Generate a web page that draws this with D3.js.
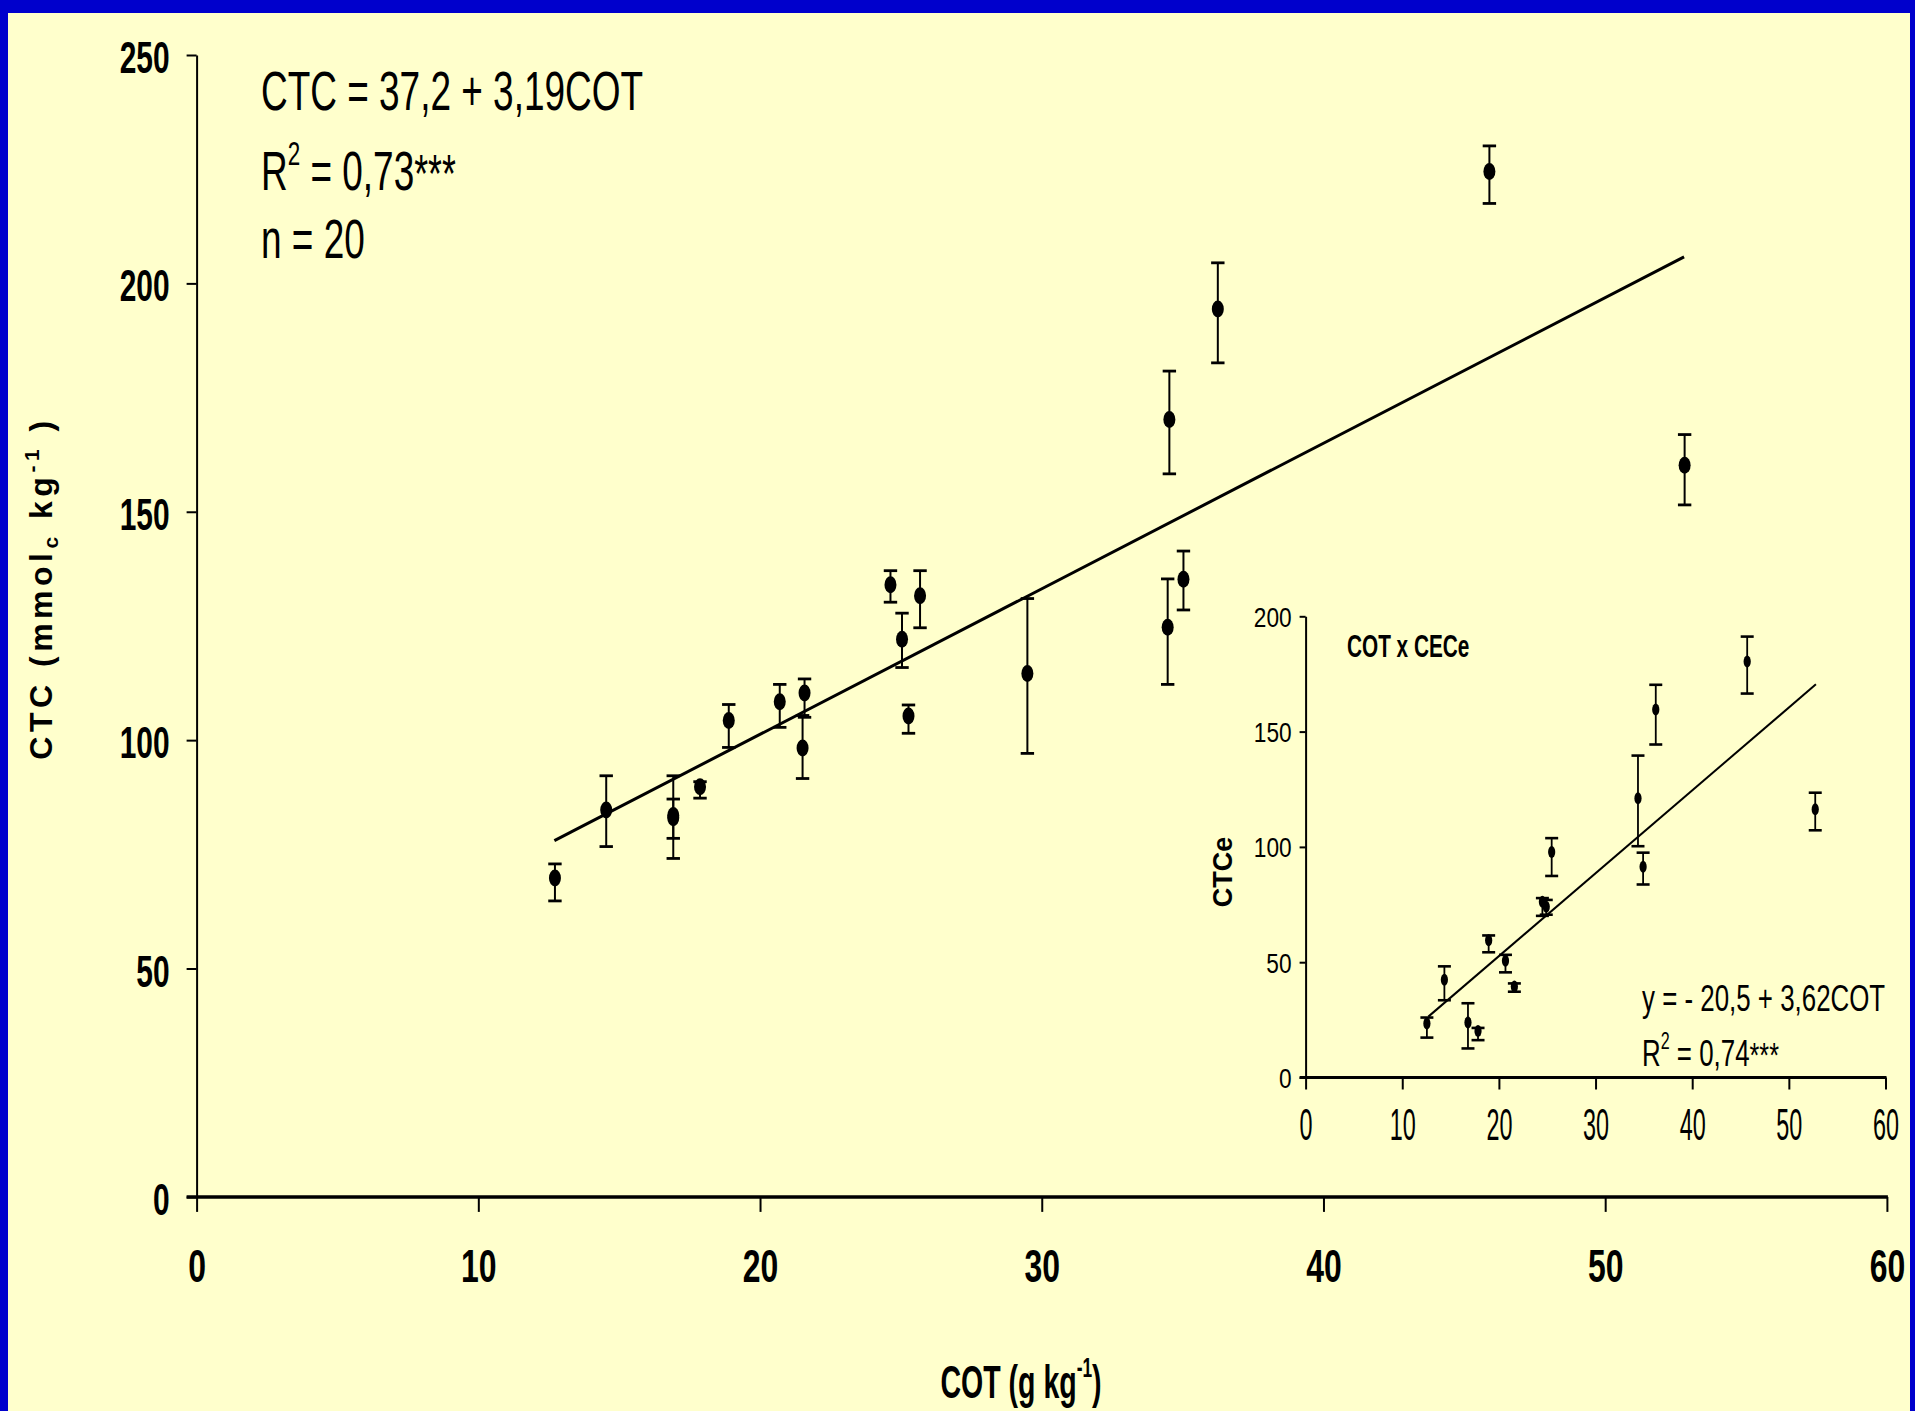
<!DOCTYPE html>
<html>
<head>
<meta charset="utf-8">
<script src="https://cdn.jsdelivr.net/npm/d3@7"></script>
<style>
body { margin: 0; background: #0000CC; }
svg { display: block; }
text { white-space: pre; }
</style>
</head>
<body>
<script>
const svgWidth = 1915
const svgHeight = 1411

// main chart: COT (g kg-1) x CTC (mmolc kg-1), mean with error bar
const cot = [12.72, 14.54, 16.92, 16.92, 17.87, 18.89, 20.70, 21.58, 21.51, 24.63, 25.04, 25.27, 25.68, 29.49, 34.47, 34.53, 35.03, 36.25, 45.89, 52.82]
const ctc = [69.8, 84.7, 83.5, 83.0, 89.8, 104.3, 108.4, 110.3, 98.3, 134.0, 122.1, 105.3, 131.6, 114.6, 124.7, 170.2, 135.2, 194.4, 224.5, 160.2]
const ctcLow = [64.8, 76.7, 74.1, 78.5, 87.3, 98.4, 102.8, 105.0, 91.6, 130.2, 115.9, 101.5, 124.6, 97.1, 112.2, 158.3, 128.5, 182.6, 217.5, 151.5]
const ctcHigh = [72.9, 92.2, 92.2, 87.1, 90.9, 107.8, 112.2, 113.4, 105.4, 137.1, 127.8, 107.7, 137.1, 131.0, 135.3, 180.8, 141.4, 204.5, 230.1, 166.9]
const ctcFit = [[12.7, 78.0], [52.8, 205.8]]

const xTicks = [0, 10, 20, 30, 40, 50, 60]
const yTicks = [0, 50, 100, 150, 200, 250]

// inset: COT x CECe
const cotIn = [12.55, 14.36, 16.80, 17.84, 18.94, 20.68, 21.6, 24.5, 24.9, 25.46, 34.39, 34.92, 36.23, 45.69, 52.73]
const ctce = [23.4, 42.4, 23.8, 20.2, 59.5, 50.6, 39.5, 76.2, 74.0, 97.8, 121.1, 91.4, 159.6, 180.4, 116.3]
const ctceLow = [17.3, 33.5, 12.6, 16.2, 54.3, 45.6, 37.2, 70.1, 70.6, 87.4, 100.3, 83.7, 144.4, 166.5, 107.2]
const ctceHigh = [26.0, 48.2, 32.2, 21.5, 61.6, 53.2, 40.8, 77.8, 77.0, 103.8, 139.6, 97.5, 170.3, 191.2, 123.5]
const ctceFit = [[12.7, 26.4], [52.8, 170.5]]

const yTicksIn = [0, 50, 100, 150, 200]

const font = "'Liberation Sans', Arial, sans-serif"

const svg = d3.select("body").append("svg")
    .attr("width", svgWidth)
    .attr("height", svgHeight)

svg.append("rect")
    .attr("width", svgWidth)
    .attr("height", svgHeight)
    .attr("fill", "#0000CC")

svg.append("rect")
    .attr("x", 8)
    .attr("y", 13)
    .attr("width", 1902)
    .attr("height", svgHeight - 13)
    .attr("fill", "#FFFFCC")

// text squeezed sideways like the original slide
function squashed(parent, px, py, sx) {
    return parent.append("text")
        .attr("transform", `translate(${px},${py}) scale(${sx},1)`)
        .attr("font-family", font)
        .attr("fill", "#000")
}

function drawPoints(g, xs, ys, lows, highs, sx, sy, opt) {
    const pts = xs.map((c, i) => ({ c, v: ys[i], lo: lows[i], hi: highs[i] }))

    g.append("g")
        .selectAll("line")
        .data(pts)
        .join("line")
        .attr("x1", d => sx(d.c))
        .attr("x2", d => sx(d.c))
        .attr("y1", d => sy(d.lo))
        .attr("y2", d => sy(d.hi))
        .attr("stroke", "#000")
        .attr("stroke-width", opt.bar)

    g.append("g")
        .selectAll("line")
        .data(pts.flatMap(d => [{ c: d.c, v: d.lo }, { c: d.c, v: d.hi }]))
        .join("line")
        .attr("x1", d => sx(d.c) - opt.cap)
        .attr("x2", d => sx(d.c) + opt.cap)
        .attr("y1", d => sy(d.v))
        .attr("y2", d => sy(d.v))
        .attr("stroke", "#000")
        .attr("stroke-width", opt.capW)

    g.append("g")
        .selectAll("ellipse")
        .data(pts)
        .join("ellipse")
        .attr("cx", d => sx(d.c))
        .attr("cy", d => sy(d.v))
        .attr("rx", opt.rx)
        .attr("ry", opt.ry)
        .attr("fill", "#000")
}

// ---------- main chart ----------
const x = d3.scaleLinear().domain([0, 60]).range([196.6, 1886.9])
const y = d3.scaleLinear().domain([0, 250]).range([1196.9, 55])

const yAxisG = svg.append("g")
    .attr("transform", `translate(${x(0)},0)`)
    .call(d3.axisLeft(y).tickValues(yTicks).tickSize(10).tickSizeOuter(0))
yAxisG.select(".domain").attr("stroke-width", 2)
yAxisG.selectAll(".tick line").attr("stroke-width", 2)
yAxisG.selectAll(".tick text")
    .attr("x", 0)
    .attr("dy", "0.4em")
    .attr("transform", "translate(-27,0) scale(0.68,1)")
    .attr("font-family", font)
    .attr("font-size", 44)
    .attr("font-weight", "bold")
    .attr("fill", "#000")

const xAxisG = svg.append("g")
    .attr("transform", `translate(0,${y(0)})`)
    .call(d3.axisBottom(x).tickValues(xTicks).tickSize(15).tickSizeOuter(0))
xAxisG.select(".domain").remove()
xAxisG.selectAll(".tick line").attr("stroke-width", 2)
xAxisG.selectAll(".tick text")
    .attr("y", 85)
    .attr("dy", 0)
    .attr("transform", "scale(0.68,1)")
    .attr("font-family", font)
    .attr("font-size", 47)
    .attr("font-weight", "bold")
    .attr("fill", "#000")

svg.append("line")
    .attr("x1", x(0) - 10)
    .attr("x2", x(60) + 1)
    .attr("y1", y(0))
    .attr("y2", y(0))
    .attr("stroke", "#000")
    .attr("stroke-width", 3.5)

const lineMain = d3.line().x(d => x(d[0])).y(d => y(d[1]))
svg.append("path")
    .attr("d", lineMain(ctcFit))
    .attr("fill", "none")
    .attr("stroke", "#000")
    .attr("stroke-width", 3)

drawPoints(svg.append("g"), cot, ctc, ctcLow, ctcHigh, x, y,
    { bar: 2, cap: 6.7, capW: 2.8, rx: 6, ry: 8.5 })

// equation block
squashed(svg, 261, 110, 0.66)
    .attr("font-size", 56)
    .text("CTC = 37,2 + 3,19COT")

const r2 = squashed(svg, 261, 190, 0.66).attr("font-size", 56)
r2.append("tspan").text("R")
r2.append("tspan").attr("dy", -25).attr("font-size", 34).text("2")
r2.append("tspan").attr("dy", 25).text(" = 0,73")
r2.append("tspan").attr("font-size", 54).attr("dy", 2).text("***")

squashed(svg, 261, 258, 0.66)
    .attr("font-size", 56)
    .text("n = 20")

// axis titles
const yTitle = svg.append("text")
    .attr("transform", "translate(52,588) rotate(-90)")
    .attr("text-anchor", "middle")
    .attr("font-family", font)
    .attr("font-weight", "bold")
    .attr("font-size", 32)
    .attr("letter-spacing", 4.5)
    .attr("fill", "#000")
yTitle.append("tspan").text("CTC (mmol")
yTitle.append("tspan").attr("font-size", 21).attr("dy", 6).text("c")
yTitle.append("tspan").attr("dy", -6).text(" kg")
yTitle.append("tspan").attr("font-size", 21).attr("dy", -13).text("-1")
yTitle.append("tspan").attr("dy", 13).text(" )")

const xTitle = squashed(svg, 1021, 1398, 0.62)
    .attr("text-anchor", "middle")
    .attr("font-weight", "bold")
    .attr("font-size", 46)
xTitle.append("tspan").text("COT (g kg")
xTitle.append("tspan").attr("font-size", 28).attr("dy", -21).text("-1")
xTitle.append("tspan").attr("dy", 21).text(")")

// ---------- inset ----------
const ix = d3.scaleLinear().domain([0, 60]).range([1305.6, 1885.5])
const iy = d3.scaleLinear().domain([0, 200]).range([1077.5, 616.3])

const iyAxisG = svg.append("g")
    .attr("transform", `translate(${ix(0)},0)`)
    .call(d3.axisLeft(iy).tickValues(yTicksIn).tickSize(6).tickSizeOuter(0))
iyAxisG.select(".domain").attr("stroke-width", 2)
iyAxisG.selectAll(".tick line").attr("stroke-width", 2)
iyAxisG.selectAll(".tick text")
    .attr("x", 0)
    .attr("dy", "0.36em")
    .attr("transform", "translate(-14,0) scale(0.81,1)")
    .attr("font-family", font)
    .attr("font-size", 28)
    .attr("fill", "#000")

const ixAxisG = svg.append("g")
    .attr("transform", `translate(0,${iy(0)})`)
    .call(d3.axisBottom(ix).tickValues(xTicks).tickSize(12).tickSizeOuter(0))
ixAxisG.select(".domain").remove()
ixAxisG.selectAll(".tick line").attr("stroke-width", 2)
ixAxisG.selectAll(".tick text")
    .attr("y", 63)
    .attr("dy", 0)
    .attr("transform", "scale(0.52,1)")
    .attr("font-family", font)
    .attr("font-size", 45)
    .attr("fill", "#000")

svg.append("line")
    .attr("x1", ix(0) - 6)
    .attr("x2", ix(60) + 1)
    .attr("y1", iy(0))
    .attr("y2", iy(0))
    .attr("stroke", "#000")
    .attr("stroke-width", 3)

const lineInset = d3.line().x(d => ix(d[0])).y(d => iy(d[1]))
svg.append("path")
    .attr("d", lineInset(ctceFit))
    .attr("fill", "none")
    .attr("stroke", "#000")
    .attr("stroke-width", 2)

drawPoints(svg.append("g"), cotIn, ctce, ctceLow, ctceHigh, ix, iy,
    { bar: 1.8, cap: 6.5, capW: 2.6, rx: 3.6, ry: 6 })

squashed(svg, 1347, 657, 0.67)
    .attr("font-size", 31)
    .attr("font-weight", "bold")
    .text("COT x CECe")

svg.append("text")
    .attr("transform", "translate(1232,872) rotate(-90)")
    .attr("text-anchor", "middle")
    .attr("font-family", font)
    .attr("font-weight", "bold")
    .attr("font-size", 27)
    .attr("fill", "#000")
    .text("CTCe")

squashed(svg, 1642, 1011, 0.7)
    .attr("font-size", 37)
    .text("y = - 20,5 + 3,62COT")

const r2In = squashed(svg, 1642, 1066, 0.7).attr("font-size", 37)
r2In.append("tspan").text("R")
r2In.append("tspan").attr("dy", -17).attr("font-size", 23).text("2")
r2In.append("tspan").attr("dy", 17).text(" = 0,74")
r2In.append("tspan").attr("font-size", 36).attr("dy", 1).text("***")
</script>
</body>
</html>
